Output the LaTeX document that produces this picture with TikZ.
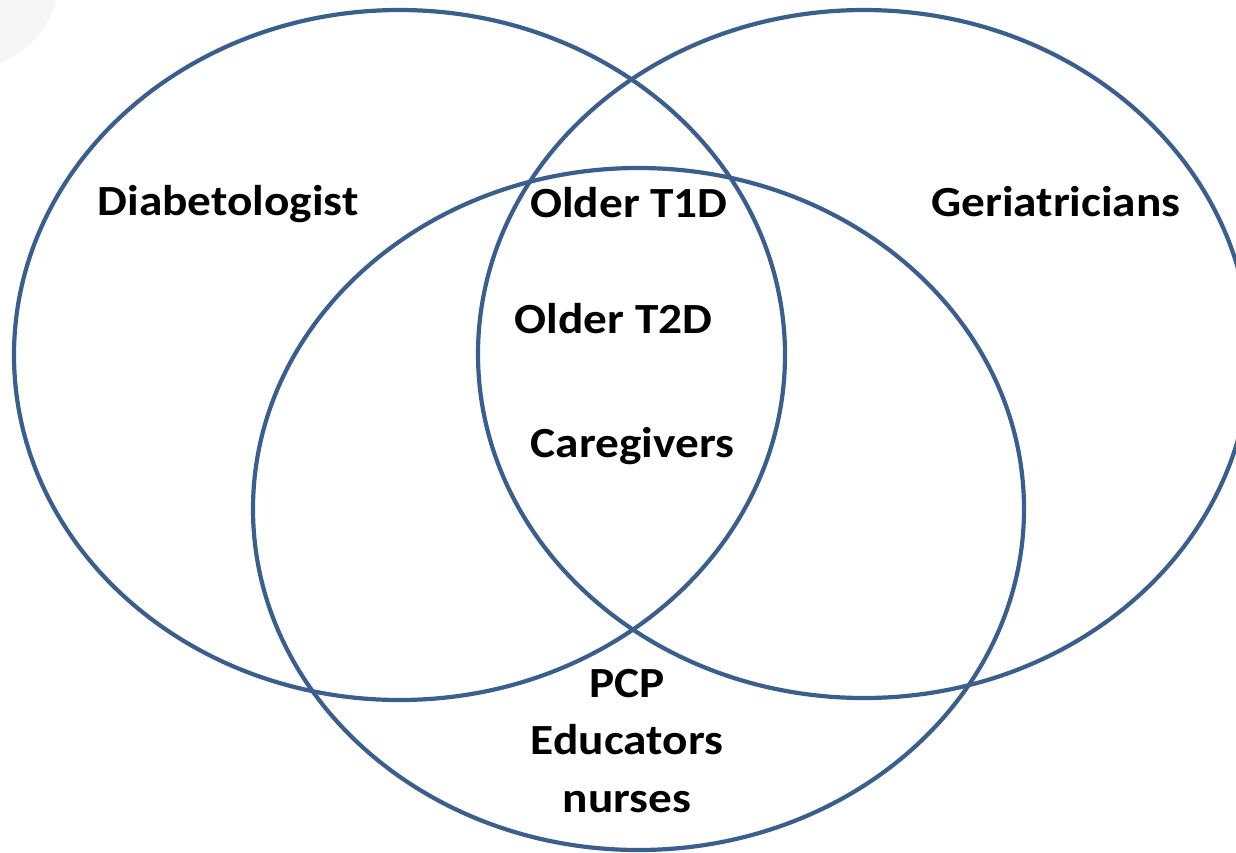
\documentclass[tikz,border=0pt]{standalone}
\usepackage{fontspec}
\setmainfont{Carlito}[FakeStretch=1.1]
\usetikzlibrary{positioning}
\definecolor{ringblue}{HTML}{3A5F8F}
\tikzset{
    ring/.style={draw=ringblue, line width=4.2pt},
    grouptext/.style={font=\bfseries\fontsize{43}{57.5}\selectfont, align=center, inner sep=0pt, anchor=base},
}
\begin{document}
\begin{tikzpicture}[x=1pt,y=-1pt]
	\useasboundingbox (0,0) rectangle (1236,852);
	\clip (0,0) rectangle (1236,852);
	\fill[gray!7] (-35,-25) circle (95);
	\draw[ring] (399.5,355) ellipse (385.5 and 345);
	\draw[ring] (864,354) ellipse (386 and 344);
	\draw[ring] (638.5,509) ellipse (385.5 and 341);
	\node[grouptext] (diab) at (228,215) {Diabetologist};
	\node[grouptext] (geri) at (1056,216) {Geriatricians};
	\node[grouptext] (tone) at (629,217) {Older T1D};
	\node[grouptext] (ttwo) at (613.5,333) {Older T2D};
	\node[grouptext] (care) at (632.5,457) {Caregivers};
	\node[grouptext] (pcp) at (627,812) {PCP\\Educators\\nurses};
\end{tikzpicture}
\end{document}
